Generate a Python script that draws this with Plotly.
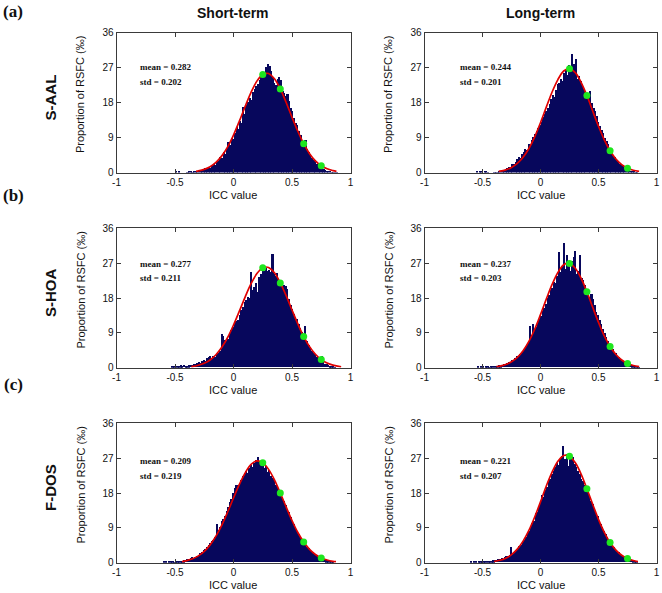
import numpy as np
import plotly.graph_objects as go

W, H = 662, 593
BIN_W = 0.014

# ---------------- data (proportion of RSFC, per mille) ----------------
col_titles = ["Short-term", "Long-term"]
row_names = ["S-AAL", "S-HOA", "F-DOS"]
row_letters = ["(a)", "(b)", "(c)"]
x_ticks = [-1, -0.5, 0, 0.5, 1]
x_tick_text = ["-1", "-0.5", "0", "0.5", "1"]
y_ticks = [0, 9, 18, 27, 36]
thresholds = [0.25, 0.4, 0.6, 0.75]

# S-AAL short-term
aal_short_start = -0.493
aal_short_counts = [
    0.5, 0, 0.6, 0, 0, 0, 0, 0.2, 0.3, 0.4,
    0.2, 0.5, 0.4, 0.6, 0.5, 0.8, 0.7, 1.0, 1.2, 1.1,
    1.6, 1.4, 2.0, 2.3, 2.1, 3.2, 3.0, 4.1, 3.8, 5.4,
    4.9, 6.3, 7.9, 7.2, 9.1, 8.7, 10.4, 11.9, 11.2, 13.5,
    12.8, 16.9, 15.1, 17.6, 18.3, 19.4, 18.7, 20.8, 21.5, 22.3,
    22.9, 23.8, 24.6, 25.7, 24.9, 27.3, 28.1, 27.6, 26.2, 24.8,
    23.1, 22.6, 24.2, 24.7, 23.9, 21.2, 20.6, 19.9, 20.4, 18.6,
    16.8, 15.9, 14.2, 12.9, 12.4, 10.8, 9.9, 8.6, 7.8, 8.4,
    6.2, 5.3, 4.6, 3.9, 3.3, 2.8, 2.3, 1.9, 1.6, 1.3,
    1.0, 0.8, 0.5, 0.4, 0.3, 0.2, 0.2, 0.1, 0.1]
aal_short_fit_x = [-0.32, -0.3, -0.25, -0.2, -0.15, -0.1, -0.05, 0, 0.05, 0.1, 0.15, 0.2, 0.25,
                   0.28, 0.3, 0.35, 0.4, 0.45, 0.5, 0.55, 0.6, 0.65, 0.7, 0.75, 0.8, 0.85, 0.88]
aal_short_fit_y = [0.3, 0.4, 0.8, 1.48, 2.59, 4.27, 6.6, 9.63, 13.2, 17.0, 20.6, 23.5, 25.2,
                   25.5, 25.45, 24.1, 21.5, 18.0, 14.2, 10.6, 7.4, 4.85, 3.0, 1.74, 0.95, 0.49, 0.3]
aal_short_green = [25.2, 21.5, 7.4, 1.74]
aal_short_stats = ["mean = 0.282", "std = 0.202"]

# S-AAL long-term
aal_long_start = -0.553
aal_long_counts = [
    0.3, 0, 0.4, 0.3, 0, 0.4, 0.3, 0.2, 0, 0,
    0, 0.1, 0.2, 0.2, 0.3, 0.4, 0.6, 0.9, 1.0, 1.3,
    1.6, 1.5, 2.2, 2.4, 2.9, 3.6, 4.1, 3.8, 4.9, 5.3,
    6.2, 6.0, 7.4, 7.2, 8.6, 9.3, 10.1, 10.9, 11.6, 12.4,
    13.2, 14.5, 15.1, 15.9, 16.7, 17.8, 19.0, 20.1, 19.6, 21.4,
    22.8, 23.1, 24.2, 23.7, 25.6, 26.4, 25.1, 27.8, 26.2, 30.6,
    28.1, 29.4, 24.3, 24.9, 23.6, 22.4, 21.7, 20.9, 19.3, 20.4,
    21.2, 18.1, 16.8, 16.0, 14.7, 13.2, 12.1, 11.0, 10.2, 9.1,
    8.2, 7.5, 6.3, 5.8, 4.7, 4.1, 3.5, 3.0, 2.4, 2.1,
    1.7, 1.3, 1.2, 0.9, 0.7, 0.5, 0.3, 0.3, 0.2, 0.1]
aal_long_fit_x = [-0.36, -0.35, -0.3, -0.25, -0.2, -0.15, -0.1, -0.05, 0, 0.05, 0.1, 0.15, 0.2,
                  0.244, 0.25, 0.3, 0.35, 0.4, 0.45, 0.5, 0.55, 0.6, 0.65, 0.7, 0.75, 0.8, 0.85]
aal_long_fit_y = [0.3, 0.34, 0.69, 1.3, 2.33, 3.91, 6.17, 9.16, 12.8, 16.8, 20.7, 23.9, 26.1,
                  26.72, 26.7, 25.7, 23.2, 19.8, 15.8, 11.9, 8.4, 5.6, 3.47, 2.04, 1.12, 0.58, 0.28]
aal_long_green = [26.7, 19.8, 5.6, 1.12]
aal_long_stats = ["mean = 0.244", "std = 0.201"]

# S-HOA short-term
hoa_short_start = -0.523
hoa_short_counts = [
    0.3, 0.3, 0, 0.3, 0.2, 0.5, 0.3, 0.6, 0.4, 0.3,
    0.5, 0.7, 0.6, 0.9, 0.8, 1.1, 1.3, 1.2, 1.6, 1.9,
    1.7, 2.4, 2.6, 2.9, 2.5, 3.0, 2.7, 3.3, 3.6, 4.2,
    8.6, 8.1, 7.0, 6.8, 7.3, 8.5, 9.6, 10.4, 11.2, 11.9,
    12.3, 13.6, 14.8, 15.5, 16.9, 17.4, 18.2, 17.8, 24.6, 19.9,
    20.8, 21.7, 19.5, 23.4, 24.1, 25.3, 24.8, 25.6, 24.9, 25.2,
    24.6, 29.2, 24.0, 23.5, 24.3, 22.6, 21.5, 20.7, 21.3, 20.9,
    20.2, 17.6, 16.1, 15.0, 13.8, 13.1, 12.4, 11.3, 10.1, 9.2,
    8.4, 10.8, 6.9, 5.7, 5.1, 4.3, 3.6, 3.2, 2.7, 2.2,
    1.8, 2.9, 1.3, 1.0, 0.8, 0.6, 0.4, 0.3, 0.2, 0.1]
hoa_short_fit_x = [-0.36, -0.3, -0.25, -0.2, -0.15, -0.1, -0.05, 0, 0.05, 0.1, 0.15, 0.2, 0.25,
                   0.277, 0.3, 0.35, 0.4, 0.45, 0.5, 0.55, 0.6, 0.65, 0.7, 0.75, 0.8, 0.85, 0.92]
hoa_short_fit_y = [0.27, 0.62, 1.15, 2.0, 3.35, 5.27, 7.8, 11.0, 14.6, 18.3, 21.7, 24.3, 25.8,
                   26.0, 25.85, 24.5, 21.9, 18.6, 14.9, 11.3, 8.05, 5.45, 3.48, 2.1, 1.2, 0.65, 0.25]
hoa_short_green = [25.8, 21.9, 8.05, 2.1]
hoa_short_stats = ["mean = 0.277", "std = 0.211"]

# S-HOA long-term
hoa_long_start = -0.543
hoa_long_counts = [
    0.2, 0, 0.3, 0.2, 0, 0.3, 0.2, 0.1, 0.3, 0.2,
    0.3, 0.2, 0.4, 0.5, 0.4, 0.7, 0.9, 0.8, 1.1, 1.3,
    1.4, 1.9, 1.7, 2.3, 2.9, 2.6, 3.4, 3.9, 4.3, 4.9,
    5.6, 6.4, 10.6, 7.9, 11.2, 9.8, 10.4, 11.3, 12.5, 13.4,
    14.6, 15.3, 16.4, 17.8, 18.6, 19.9, 20.4, 22.1, 21.8, 23.5,
    29.8, 24.7, 26.1, 32.0, 25.4, 29.1, 26.3, 24.8, 27.4, 28.6,
    30.1, 24.2, 25.0, 28.9, 23.1, 22.6, 21.3, 20.2, 19.4, 18.3,
    18.9, 17.6, 16.2, 14.3, 13.5, 12.2, 11.1, 9.8, 8.9, 7.8,
    6.9, 6.1, 5.4, 4.8, 4.0, 3.6, 2.9, 2.6, 2.1, 1.8,
    1.5, 1.3, 1.0, 0.8, 0.7, 0.5, 0.4, 0.3, 0.2, 0.1]
hoa_long_fit_x = [-0.38, -0.35, -0.3, -0.25, -0.2, -0.15, -0.1, -0.05, 0, 0.05, 0.1, 0.15, 0.2,
                  0.237, 0.25, 0.3, 0.35, 0.4, 0.45, 0.5, 0.55, 0.6, 0.65, 0.7, 0.75, 0.8, 0.85]
hoa_long_fit_y = [0.3, 0.41, 0.82, 1.52, 2.66, 4.39, 6.8, 9.93, 13.7, 17.7, 21.5, 24.6, 26.6,
                  27.0, 26.94, 25.7, 23.1, 19.6, 15.6, 11.7, 8.2, 5.46, 3.4, 2.0, 1.1, 0.58, 0.28]
hoa_long_green = [26.94, 19.6, 5.46, 1.1]
hoa_long_stats = ["mean = 0.237", "std = 0.203"]

# F-DOS short-term
dos_short_start = -0.593
dos_short_counts = [
    0.2, 0.3, 0, 0.2, 0.3, 0.2, 0.1, 0.2, 0.3, 0.2,
    0.3, 0.4, 0.5, 0.6, 0.8, 0.9, 1.1, 1.3, 1.2, 1.5,
    1.6, 2.0, 2.3, 2.7, 3.2, 3.5, 3.9, 4.6, 4.9, 5.6,
    5.9, 6.6, 9.8, 8.4, 9.1, 10.6, 11.3, 12.1, 13.4, 14.2,
    15.6, 16.3, 17.8, 19.2, 20.1, 19.7, 20.6, 21.4, 22.3, 22.9,
    23.6, 23.2, 24.3, 25.1, 24.6, 25.8, 26.4, 27.2, 26.1, 25.4,
    25.7, 24.4, 24.9, 23.4, 23.8, 22.3, 21.9, 21.0, 20.1, 19.4,
    18.5, 17.8, 16.6, 15.9, 14.8, 13.6, 12.9, 11.8, 10.7, 9.9,
    9.1, 8.2, 7.3, 6.6, 6.0, 5.3, 4.8, 4.1, 3.6, 3.2,
    2.8, 2.4, 2.1, 1.8, 1.5, 1.3, 1.1, 0.8, 0.6, 0.5,
    0.4, 0.3, 0.2, 0.1]
dos_short_fit_x = [-0.44, -0.4, -0.35, -0.3, -0.25, -0.2, -0.15, -0.1, -0.05, 0, 0.05, 0.1, 0.15,
                   0.2, 0.25, 0.3, 0.35, 0.4, 0.45, 0.5, 0.55, 0.6, 0.65, 0.7, 0.75, 0.8, 0.85, 0.876]
dos_short_fit_y = [0.3, 0.55, 1.01, 1.77, 2.92, 4.6, 6.86, 9.72, 13.1, 16.7, 20.2, 23.2, 25.4,
                   26.3, 25.8, 24.1, 21.4, 18.0, 14.4, 10.9, 7.8, 5.34, 3.46, 2.13, 1.24, 0.69, 0.36, 0.26]
dos_short_green = [25.8, 18.0, 5.34, 1.24]
dos_short_stats = ["mean = 0.209", "std = 0.219"]

# F-DOS long-term
dos_long_start = -0.603
dos_long_counts = [
    0.2, 0, 0.3, 0.2, 0, 0.2, 0.3, 0.2, 0.3, 0.2,
    0.3, 0.2, 0.4, 0.3, 0.5, 0.6, 0.7, 0.9, 0.8, 1.1,
    1.0, 1.3, 1.6, 1.5, 2.0, 3.9, 2.4, 2.8, 3.1, 3.6,
    4.2, 4.6, 5.3, 5.9, 6.6, 7.4, 8.2, 8.9, 10.1, 10.8,
    12.7, 13.1, 14.6, 15.5, 17.3, 17.0, 18.6, 19.4, 20.8, 21.6,
    22.9, 23.7, 24.6, 25.8, 25.1, 26.7, 27.4, 30.1, 26.6, 28.0,
    24.9, 27.3, 26.8, 27.1, 25.4, 24.7, 23.5, 22.8, 21.6, 21.1,
    19.9, 19.4, 18.2, 17.1, 15.9, 15.2, 14.0, 12.8, 11.9, 10.7,
    9.8, 9.1, 8.1, 7.4, 6.5, 5.9, 5.2, 4.5, 3.9, 3.5,
    3.0, 2.6, 2.2, 1.9, 1.6, 1.3, 1.1, 0.9, 0.7, 0.6,
    0.4, 0.3, 0.2]
dos_long_fit_x = [-0.4, -0.35, -0.3, -0.25, -0.2, -0.15, -0.1, -0.05, 0, 0.05, 0.1, 0.15, 0.2,
                  0.221, 0.25, 0.3, 0.35, 0.4, 0.45, 0.5, 0.55, 0.6, 0.65, 0.7, 0.75, 0.8, 0.84]
dos_long_fit_y = [0.31, 0.62, 1.17, 2.09, 3.52, 5.58, 8.35, 11.8, 15.7, 19.8, 23.4, 26.2, 27.66,
                  27.8, 27.5, 25.8, 22.9, 19.1, 15.1, 11.2, 7.86, 5.2, 3.25, 1.91, 1.06, 0.56, 0.3]
dos_long_green = [27.5, 19.1, 5.2, 1.06]
dos_long_stats = ["mean = 0.221", "std = 0.207"]

panels = [
    (aal_short_start, aal_short_counts, aal_short_fit_x, aal_short_fit_y, aal_short_green, aal_short_stats),
    (aal_long_start, aal_long_counts, aal_long_fit_x, aal_long_fit_y, aal_long_green, aal_long_stats),
    (hoa_short_start, hoa_short_counts, hoa_short_fit_x, hoa_short_fit_y, hoa_short_green, hoa_short_stats),
    (hoa_long_start, hoa_long_counts, hoa_long_fit_x, hoa_long_fit_y, hoa_long_green, hoa_long_stats),
    (dos_short_start, dos_short_counts, dos_short_fit_x, dos_short_fit_y, dos_short_green, dos_short_stats),
    (dos_long_start, dos_long_counts, dos_long_fit_x, dos_long_fit_y, dos_long_green, dos_long_stats),
]

# ---------------- layout geometry (pixels) ----------------
col_px = [(116.5, 350.5), (424.5, 656.5)]
row_px = [(32.5, 172.5), (228.3, 367.7), (423.3, 562.7)]
stats_pos = {0: (-0.82, 27.2, 23.4), 1: (-0.71, 27.2, 23.4)}
row_stat_shift = [0.0, -0.3, -1.0]

SANS = "Liberation Sans, Arial, sans-serif"
SERIF = "Liberation Serif, Times New Roman, serif"
NAVY = "#07075c"


def px_x(p):
    return p / W


def px_y(p):
    return 1 - p / H


fig = go.Figure()
annotations = []
layout = dict(
    width=W, height=H, margin=dict(l=0, r=0, t=0, b=0, pad=0, autoexpand=False),
    paper_bgcolor="white", plot_bgcolor="white", showlegend=False,
    bargap=0, barmode="overlay",
)

for k, (start, counts, fx, fy, green, stats) in enumerate(panels):
    r, c = divmod(k, 2)
    n = k + 1
    xa = "x" if n == 1 else f"x{n}"
    ya = "y" if n == 1 else f"y{n}"
    centers = start + BIN_W * np.arange(len(counts))
    fig.add_trace(go.Bar(x=centers, y=counts, width=BIN_W, xaxis=xa, yaxis=ya,
                         marker=dict(color=NAVY, line=dict(width=0))))
    fig.add_trace(go.Scatter(x=fx, y=fy, mode="lines", xaxis=xa, yaxis=ya,
                             line=dict(color="#e00000", width=1.7, shape="spline")))
    fig.add_trace(go.Scatter(x=thresholds, y=green, mode="markers", xaxis=xa, yaxis=ya,
                             marker=dict(color="#1ee61e", size=7, line=dict(width=0))))

    axis_common = dict(showline=True, linecolor="#3a3a3a", linewidth=1, mirror="ticks",
                       ticks="inside", ticklen=4, tickcolor="#3a3a3a", showgrid=False,
                       zeroline=False, automargin=False,
                       tickfont=dict(family=SANS, size=10, color="#111"))
    x0, x1 = col_px[c]
    y0, y1 = row_px[r]
    layout["xaxis" if n == 1 else f"xaxis{n}"] = dict(
        axis_common, domain=[px_x(x0), px_x(x1)], anchor=ya, range=[-1, 1],
        tickvals=x_ticks, ticktext=x_tick_text)
    layout["yaxis" if n == 1 else f"yaxis{n}"] = dict(
        axis_common, domain=[px_y(y1), px_y(y0)], anchor=xa, range=[0, 36],
        tickvals=y_ticks)

    # stats text
    sx, sy1, sy2 = stats_pos[c]
    for txt, yy in zip(stats, [sy1 + row_stat_shift[r], sy2 + row_stat_shift[r]]):
        annotations.append(dict(x=sx, y=yy, xref=xa, yref=ya, text=f"<b>{txt}</b>",
                                showarrow=False, xanchor="left", yanchor="middle",
                                font=dict(family=SERIF, size=9, color="#111")))
    # axis titles
    annotations.append(dict(x=px_x((x0 + x1) / 2), y=px_y(y1 + 22), xref="paper", yref="paper",
                            text="ICC value", showarrow=False, xanchor="center", yanchor="middle",
                            font=dict(family=SANS, size=11, color="#111")))
    annotations.append(dict(x=px_x(x0 - 36), y=px_y((y0 + y1) / 2 - 8), xref="paper", yref="paper",
                            text="Proportion of RSFC (‰)", showarrow=False, textangle=-90,
                            xanchor="center", yanchor="middle",
                            font=dict(family=SANS, size=11, color="#111")))

# column titles
for c, t in enumerate(col_titles):
    x0, x1 = col_px[c]
    annotations.append(dict(x=px_x((x0 + x1) / 2), y=px_y(13), xref="paper", yref="paper",
                            text=f"<b>{t}</b>", showarrow=False, xanchor="center", yanchor="middle",
                            font=dict(family=SANS, size=14, color="#111")))

# row labels and letters
letter_px = [11, 196, 384]
for r, (name, letter) in enumerate(zip(row_names, row_letters)):
    y0, y1 = row_px[r]
    annotations.append(dict(x=px_x(50), y=px_y((y0 + y1) / 2 - 5), xref="paper", yref="paper",
                            text=f"<b>{name}</b>", showarrow=False, textangle=-90,
                            xanchor="center", yanchor="middle",
                            font=dict(family=SANS, size=15, color="#111")))
    annotations.append(dict(x=px_x(13), y=px_y(letter_px[r]), xref="paper", yref="paper",
                            text=f"<b>{letter}</b>", showarrow=False,
                            xanchor="center", yanchor="middle",
                            font=dict(family=SERIF, size=17, color="#111")))

layout["annotations"] = annotations
fig.update_layout(**layout)
fig.write_html("out.html", config={"displayModeBar": False},
               post_script="document.body.style.margin='0px';document.body.style.overflow='hidden';")
